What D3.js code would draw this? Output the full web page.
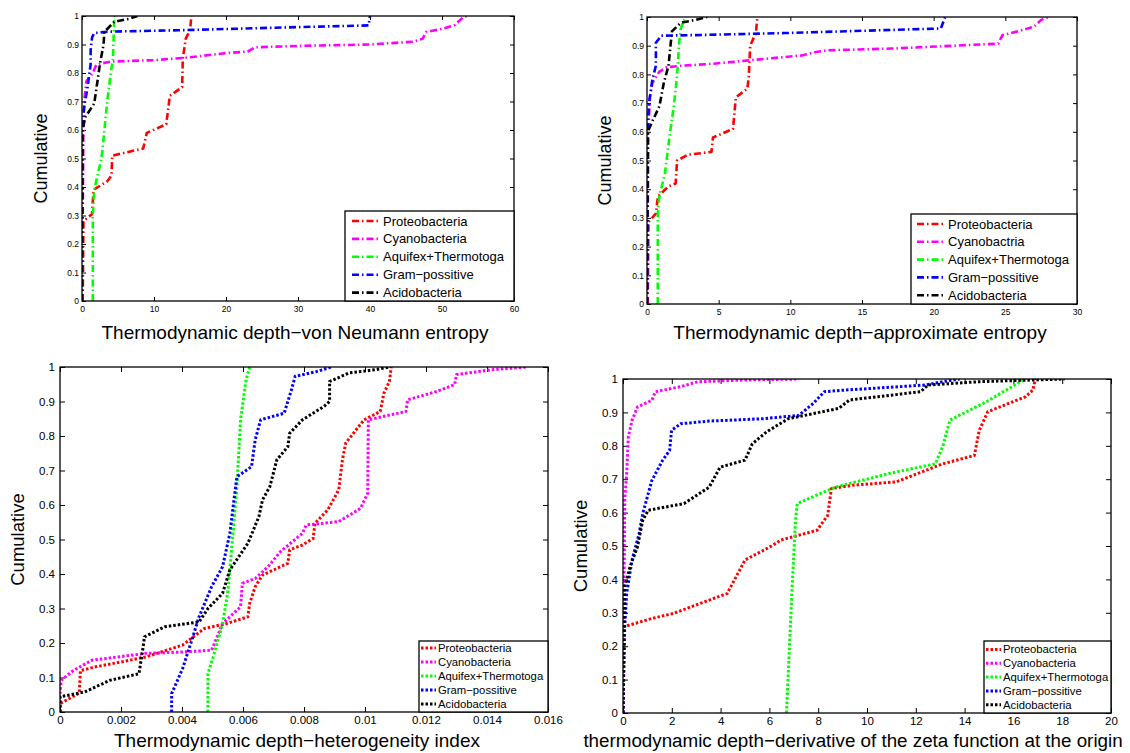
<!DOCTYPE html>
<html>
<head>
<meta charset="utf-8">
<script src="https://cdn.jsdelivr.net/npm/d3@7"></script>
<style>
  body { margin: 0; background: #fff; }
  svg { font-family: "Liberation Sans", Arial, sans-serif; }
</style>
</head>
<body>
<svg id="fig" width="1130" height="753"></svg>
<script>
// series names and colours
var names1 = ["Proteobacteria", "Cyanobacteria", "Aquifex+Thermotoga", "Gram\u2212possitive", "Acidobacteria"],
    names2 = ["Proteobacteria", "Cyanobactria", "Aquifex+Thermotoga", "Gram\u2212possitive", "Acidobacteria"],
    colors = ["#ff0000", "#ff00ff", "#00ff00", "#0000ff", "#000000"];

var yTicks = [0, 0.1, 0.2, 0.3, 0.4, 0.5, 0.6, 0.7, 0.8, 0.9, 1];
var vnTicks = [0, 10, 20, 30, 40, 50, 60],
    aeTicks = [0, 5, 10, 15, 20, 25, 30],
    hiTicks = [0, 0.002, 0.004, 0.006, 0.008, 0.01, 0.012, 0.014, 0.016],
    zdTicks = [0, 2, 4, 6, 8, 10, 12, 14, 16, 18, 20];

// von Neumann entropy
var vnProteo = [[0.1,0],[0.2,0.28],[1.4,0.305],[1.6,0.39],[3.5,0.42],[4.1,0.44],[4.2,0.51],[8.5,0.535],[9,0.59],[11.7,0.62],[12.2,0.72],[13.9,0.75],[14,0.85],[14.4,0.92],[15,0.95],[15.2,1]];
var vnCyano = [[0,0],[0.1,0.3],[0.2,0.6],[0.3,0.7],[0.6,0.77],[1.5,0.8],[2,0.83],[4,0.84],[10,0.845],[15,0.855],[20,0.87],[23,0.875],[24,0.89],[30,0.895],[40,0.9],[46,0.91],[47.3,0.92],[47.8,0.944],[50.2,0.956],[51.7,0.967],[53,0.997],[53.5,1]];
var vnAquifex = [[1.5,0],[1.5,0.3],[1.7,0.39],[2.7,0.5],[3,0.57],[3.5,0.7],[4,0.8],[4.3,0.85],[4.4,0.93],[4.5,1]];
var vnGram = [[0,0],[0.05,0.63],[0.1,0.635],[0.35,0.69],[0.75,0.745],[0.9,0.775],[1.2,0.83],[1.2,0.88],[1.4,0.925],[1.7,0.94],[3.5,0.945],[13.4,0.95],[28.4,0.96],[39.8,0.967],[40,1]];
var vnAcido = [[0,0],[0.05,0.6],[0.5,0.647],[1.7,0.693],[2.2,0.78],[2.5,0.833],[3,0.9],[3.1,0.944],[4.5,0.98],[6.5,0.99],[7.7,1]];

// approximate entropy
var aeProteo = [[0.05,0],[0.1,0.286],[0.62,0.315],[0.75,0.37],[0.87,0.38],[1.5,0.41],[2,0.42],[2.1,0.5],[2.86,0.52],[4.5,0.53],[4.6,0.58],[6,0.61],[6.2,0.72],[7,0.75],[7.1,0.79],[7.2,0.9],[7.6,0.945],[7.7,1]];
var aeCyano = [[0,0],[0.1,0.6],[0.2,0.72],[0.37,0.77],[0.87,0.81],[1.37,0.825],[2.36,0.83],[4.6,0.837],[7.1,0.849],[10.8,0.866],[11.8,0.878],[12.6,0.884],[17.05,0.89],[24.5,0.907],[24.8,0.937],[25.8,0.949],[27,0.966],[27.5,0.99],[28,1]];
var aeAquifex = [[0.75,0],[0.75,0.31],[0.87,0.38],[1.24,0.45],[1.6,0.595],[1.87,0.69],[2.1,0.795],[2.24,0.91],[2.36,0.96],[2.6,0.99],[2.7,1]];
var aeGram = [[0,0],[0.05,0.63],[0.17,0.71],[0.37,0.78],[0.62,0.83],[0.62,0.91],[1,0.935],[3.4,0.937],[9.6,0.944],[20.5,0.96],[20.8,1]];
var aeAcido = [[0,0],[0.05,0.6],[0.37,0.636],[0.87,0.69],[1.17,0.77],[1.5,0.83],[1.74,0.95],[2.36,0.98],[3.4,0.99],[4.2,1]];

// heterogeneity index
var hiProteo = [[0,0],[0,0.024],[0.00063,0.055],[0.00067,0.12],[0.00117,0.131],[0.002,0.145],[0.00283,0.16],[0.00402,0.194],[0.00473,0.242],[0.00545,0.256],[0.00616,0.276],[0.00622,0.315],[0.0064,0.363],[0.00664,0.397],[0.00747,0.431],[0.00753,0.47],[0.00795,0.484],[0.0083,0.503],[0.00836,0.547],[0.00878,0.586],[0.00914,0.644],[0.00926,0.731],[0.00937,0.78],[0.00997,0.847],[0.0105,0.871],[0.01062,0.924],[0.0108,0.958],[0.01086,1]];
var hiCyano = [[0,0],[0,0.053],[0.00004,0.092],[0.00045,0.121],[0.00105,0.15],[0.00283,0.17],[0.00402,0.174],[0.00497,0.179],[0.00533,0.256],[0.00592,0.305],[0.00598,0.373],[0.0064,0.387],[0.00682,0.421],[0.00723,0.465],[0.00795,0.518],[0.00807,0.542],[0.00914,0.552],[0.00985,0.59],[0.01009,0.634],[0.01011,0.847],[0.01134,0.871],[0.0114,0.905],[0.01235,0.929],[0.01294,0.949],[0.013,0.978],[0.01413,0.992],[0.01532,1]];
var hiAquifex = [[0.00485,0],[0.00485,0.111],[0.00509,0.179],[0.00533,0.256],[0.00551,0.353],[0.00569,0.537],[0.0058,0.653],[0.00592,0.847],[0.0061,0.963],[0.00622,1]];
var hiGram = [[0.00366,0],[0.00366,0.053],[0.00402,0.126],[0.00432,0.208],[0.00456,0.276],[0.00497,0.363],[0.00533,0.421],[0.00557,0.518],[0.00569,0.605],[0.0058,0.682],[0.00628,0.711],[0.0064,0.789],[0.00658,0.847],[0.00735,0.866],[0.00759,0.934],[0.00771,0.973],[0.00842,0.987],[0.00889,1]];
var hiAcido = [[0,0],[0,0.044],[0.00081,0.058],[0.00164,0.092],[0.00259,0.111],[0.00271,0.179],[0.00277,0.218],[0.00343,0.247],[0.00456,0.261],[0.00485,0.3],[0.00533,0.344],[0.00557,0.412],[0.00616,0.489],[0.00652,0.566],[0.00664,0.615],[0.00688,0.653],[0.00711,0.731],[0.00747,0.769],[0.00753,0.808],[0.00795,0.847],[0.00866,0.886],[0.00884,0.9],[0.00884,0.958],[0.00949,0.983],[0.01033,0.992],[0.0108,1]];

// derivative of the zeta function at the origin
var zdProteo = [[0,0],[0.02,0.258],[1.18,0.283],[2.06,0.298],[4.27,0.358],[4.71,0.418],[5,0.458],[6.04,0.498],[6.48,0.518],[7.95,0.547],[8.39,0.592],[8.54,0.672],[9.43,0.682],[11.2,0.692],[13.1,0.746],[14.4,0.771],[14.6,0.846],[14.95,0.902],[16.5,0.947],[16.8,0.967],[16.9,1]];
var zdCyano = [[0,0],[0.07,0.637],[0.15,0.717],[0.22,0.827],[0.37,0.876],[0.59,0.916],[1.18,0.936],[1.33,0.962],[2.36,0.977],[3.09,0.992],[5,0.997],[7.2,1]];
var zdAquifex = [[6.7,0],[6.92,0.358],[7.07,0.577],[7.14,0.627],[8.69,0.676],[10.9,0.717],[12.8,0.746],[13.1,0.797],[13.4,0.877],[14.9,0.932],[16.05,0.982],[16.5,1]];
var zdGram = [[0,0],[0.07,0.258],[0.15,0.358],[0.37,0.458],[0.66,0.537],[0.81,0.597],[1.18,0.696],[1.62,0.756],[1.91,0.786],[1.99,0.846],[2.36,0.866],[3.53,0.874],[5.74,0.881],[7.2,0.891],[7.8,0.927],[8.25,0.962],[9.13,0.967],[12.4,0.982],[13.1,0.992],[13.8,1]];
var zdAcido = [[0,0],[0.07,0.378],[0.29,0.438],[0.59,0.497],[0.81,0.577],[1.03,0.607],[2.5,0.627],[3.53,0.676],[3.98,0.736],[5,0.757],[5.3,0.806],[5.89,0.842],[6.77,0.881],[8.84,0.912],[9.28,0.937],[12.2,0.962],[12.5,0.982],[14.6,0.992],[16.8,0.997],[18.1,1]];

var svg = d3.select("#fig");

function drawPanel(p) {
  var x = d3.scaleLinear().domain([p.xTicks[0], p.xTicks[p.xTicks.length - 1]]).range([p.left, p.right]),
      y = d3.scaleLinear().domain([0, 1]).range([p.bottom, p.top]);

  var g = svg.append("g");

  g.append("clipPath").attr("id", p.id + "-clip")
    .append("rect")
      .attr("x", p.left).attr("y", p.top)
      .attr("width", p.right - p.left).attr("height", p.bottom - p.top);

  // axes, ticks inside on all four sides like matlab
  var tl = p.tickLen;
  g.append("g").attr("transform", "translate(0," + p.bottom + ")")
    .call(d3.axisBottom(x).tickValues(p.xTicks).tickSizeInner(-tl).tickSizeOuter(0).tickPadding(p.xPad).tickFormat(d3.format("~g")));
  g.append("g").attr("transform", "translate(0," + p.top + ")")
    .call(d3.axisTop(x).tickValues(p.xTicks).tickSizeInner(-tl).tickSizeOuter(0).tickFormat(""));
  g.append("g").attr("transform", "translate(" + p.left + ",0)")
    .call(d3.axisLeft(y).tickValues(yTicks).tickSizeInner(-tl).tickSizeOuter(0).tickPadding(p.yPad).tickFormat(d3.format("~g")));
  g.append("g").attr("transform", "translate(" + p.right + ",0)")
    .call(d3.axisRight(y).tickValues(yTicks).tickSizeInner(-tl).tickSizeOuter(0).tickFormat(""));

  g.selectAll(".tick text").attr("font-size", p.tickFont).attr("fill", "#000")
    .attr("font-family", "Liberation Sans, Arial, sans-serif");
  g.selectAll(".domain").remove();
  g.selectAll(".tick line").attr("stroke", "#000");

  var line = d3.line().x(function(d) { return x(d[0]); }).y(function(d) { return y(d[1]); });

  var lines = g.append("g").attr("clip-path", "url(#" + p.id + "-clip)");
  p.series.forEach(function(s, i) {
    lines.append("path")
      .attr("d", line(s))
      .attr("fill", "none")
      .attr("stroke", colors[i])
      .attr("stroke-width", p.lineWidth)
      .attr("stroke-dasharray", p.dash)
      .attr("stroke-linejoin", "round");
  });

  // frame
  g.append("rect")
    .attr("x", p.left).attr("y", p.top)
    .attr("width", p.right - p.left).attr("height", p.bottom - p.top)
    .attr("fill", "none").attr("stroke", "#000").attr("stroke-width", 1.3);

  // legend
  var L = p.legend;
  var lg = g.append("g");
  lg.append("clipPath").attr("id", p.id + "-lclip")
    .append("rect")
      .attr("x", L.x).attr("y", L.y)
      .attr("width", p.right - L.x).attr("height", p.bottom - L.y);
  lg.append("rect")
    .attr("x", L.x).attr("y", L.y)
    .attr("width", p.right - L.x).attr("height", p.bottom - L.y)
    .attr("fill", "#fff");
  var items = lg.append("g").attr("clip-path", "url(#" + p.id + "-lclip)");
  p.names.forEach(function(n, i) {
    var yy = L.y + L.first + i * L.step;
    items.append("line")
      .attr("x1", L.x + L.l1).attr("x2", L.x + L.l2)
      .attr("y1", yy).attr("y2", yy)
      .attr("stroke", colors[i]).attr("stroke-width", p.lineWidth)
      .attr("stroke-dasharray", p.dash);
    items.append("text")
      .attr("x", L.x + L.tx).attr("y", yy)
      .attr("dy", "0.35em")
      .attr("font-size", L.font)
      .text(n);
  });
  lg.append("rect")
    .attr("x", L.x).attr("y", L.y)
    .attr("width", p.right - L.x).attr("height", p.bottom - L.y)
    .attr("fill", "none").attr("stroke", "#000").attr("stroke-width", 1.3);

  // labels
  g.append("text")
    .attr("x", p.xLabelX).attr("y", p.xLabelY)
    .attr("text-anchor", "middle")
    .attr("font-size", p.labelFont)
    .text(p.xLabel);
  g.append("text")
    .attr("transform", "translate(" + p.yLabelX + "," + ((p.top + p.bottom) / 2) + ") rotate(-90)")
    .attr("text-anchor", "middle")
    .attr("font-size", p.yLabelFont)
    .text("Cumulative");
}

drawPanel({
  id: "vn", left: 82, right: 514, top: 16, bottom: 301,
  xTicks: vnTicks, tickLen: 4, tickFont: 8.5, xPad: 5, yPad: 3,
  series: [vnProteo, vnCyano, vnAquifex, vnGram, vnAcido],
  names: names1, lineWidth: 2.6, dash: "7,3,1.5,3",
  legend: { x: 345, y: 211, first: 10, step: 17.9, l1: 7, l2: 36, tx: 38, font: 13 },
  xLabel: "Thermodynamic depth\u2212von Neumann entropy", xLabelX: 295, xLabelY: 339,
  labelFont: 19, yLabelX: 47, yLabelFont: 18
});

drawPanel({
  id: "ae", left: 647, right: 1077, top: 17, bottom: 304,
  xTicks: aeTicks, tickLen: 4, tickFont: 8.5, xPad: 5, yPad: 3,
  series: [aeProteo, aeCyano, aeAquifex, aeGram, aeAcido],
  names: names2, lineWidth: 2.6, dash: "7,3,1.5,3",
  legend: { x: 911, y: 214, first: 10, step: 17.8, l1: 6, l2: 34, tx: 37, font: 13 },
  xLabel: "Thermodynamic depth\u2212approximate entropy", xLabelX: 860, xLabelY: 339,
  labelFont: 19, yLabelX: 611, yLabelFont: 18
});

drawPanel({
  id: "hi", left: 60, right: 548, top: 367, bottom: 712,
  xTicks: hiTicks, tickLen: 5, tickFont: 11.5, xPad: 4, yPad: 5,
  series: [hiProteo, hiCyano, hiAquifex, hiGram, hiAcido],
  names: names1, lineWidth: 3, dash: "2.5,2",
  legend: { x: 419, y: 641, first: 7, step: 14, l1: 2, l2: 17, tx: 19, font: 11.3 },
  xLabel: "Thermodynamic depth\u2212heterogeneity index", xLabelX: 297, xLabelY: 747,
  labelFont: 19, yLabelX: 24, yLabelFont: 18.5
});

drawPanel({
  id: "zd", left: 623, right: 1111, top: 379, bottom: 713,
  xTicks: zdTicks, tickLen: 5, tickFont: 11.5, xPad: 4, yPad: 5,
  series: [zdProteo, zdCyano, zdAquifex, zdGram, zdAcido],
  names: names1, lineWidth: 3, dash: "2.5,2",
  legend: { x: 984, y: 641, first: 8.5, step: 13.8, l1: 2, l2: 17, tx: 19, font: 11.3 },
  xLabel: "thermodynamic depth\u2212derivative of the zeta function at the origin", xLabelX: 853, xLabelY: 747,
  labelFont: 18.8, yLabelX: 587, yLabelFont: 18.5
});
</script>
</body>
</html>
